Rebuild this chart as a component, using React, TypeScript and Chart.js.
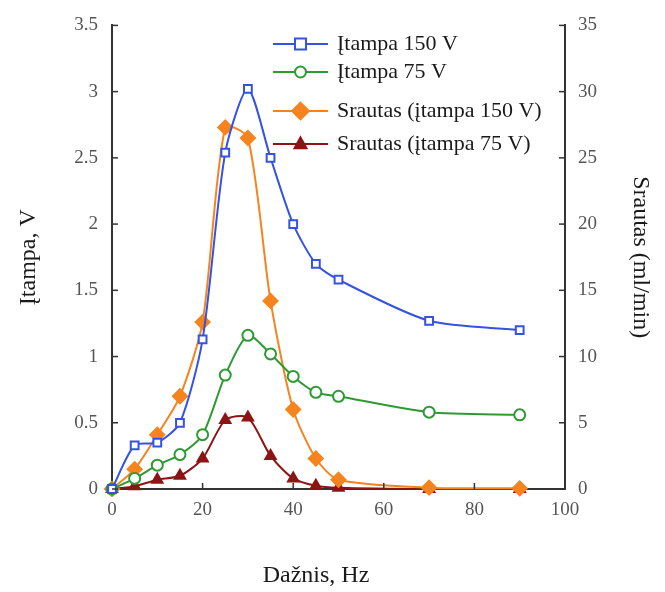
import React, { useEffect, useRef } from "react";
import { Chart, registerables } from "chart.js";

Chart.register(...registerables);

const frequencyHz = [0, 5, 10, 15, 20, 25, 30, 35, 40, 45, 50, 70, 90];
const voltage150 = [0, 0.33, 0.35, 0.5, 1.13, 2.54, 3.02, 2.5, 2.0, 1.7, 1.58, 1.27, 1.2];
const voltage75 = [0, 0.08, 0.18, 0.26, 0.41, 0.86, 1.16, 1.02, 0.85, 0.73, 0.7, 0.58, 0.56];
const flow150 = [0, 1.5, 4.1, 7.0, 12.6, 27.3, 26.5, 14.2, 6.0, 2.3, 0.7, 0.1, 0.05];
const flow75 = [0, 0.2, 0.7, 1.0, 2.3, 5.2, 5.4, 2.5, 0.8, 0.25, 0.1, 0, 0];

const seriesLabels = [
  "Įtampa 150 V",
  "Įtampa 75 V",
  "Srautas (įtampa 150 V)",
  "Srautas (įtampa 75 V)",
];
const xTitle = "Dažnis, Hz";
const yTitle = "Įtampa, V";
const y2Title = "Srautas (ml/min)";

const FONT = '"Liberation Serif", "Times New Roman", serif';
const COLORS = ["#3552e0", "#2f9a34", "#f5841f", "#8c1414"];

const toPoints = (ys: number[]) => frequencyHz.map((x, i) => ({ x, y: ys[i] }));

function drawMarker(ctx: CanvasRenderingContext2D, style: string, r: number, x: number, y: number) {
  ctx.beginPath();
  if (style === "rect") {
    ctx.rect(x - r, y - r, 2 * r, 2 * r);
  } else if (style === "circle") {
    ctx.arc(x, y, r, 0, Math.PI * 2);
  } else if (style === "rectRot") {
    ctx.moveTo(x, y - r * 1.2);
    ctx.lineTo(x + r * 1.2, y);
    ctx.lineTo(x, y + r * 1.2);
    ctx.lineTo(x - r * 1.2, y);
    ctx.closePath();
  } else if (style === "triangle") {
    ctx.moveTo(x, y - r * 1.1);
    ctx.lineTo(x + r, y + r * 0.7);
    ctx.lineTo(x - r, y + r * 0.7);
    ctx.closePath();
  }
  ctx.fill();
  ctx.stroke();
}

const overlayPlugin = {
  id: "overlay",
  afterDraw(chart: any) {
    const { ctx, chartArea, scales } = chart;
    const { left, right, bottom } = chartArea;
    ctx.save();
    ctx.strokeStyle = "#333";
    ctx.lineWidth = 1.5;
    // inward tick marks
    scales.x.ticks.forEach((t: any) => {
      const px = scales.x.getPixelForValue(t.value);
      if (t.value <= 0 || t.value >= 100) return;
      ctx.beginPath();
      ctx.moveTo(px, bottom);
      ctx.lineTo(px, bottom - 6);
      ctx.stroke();
    });
    scales.y.ticks.forEach((t: any) => {
      const py = scales.y.getPixelForValue(t.value);
      ctx.beginPath();
      ctx.moveTo(left, py);
      ctx.lineTo(left + 6, py);
      ctx.stroke();
    });
    scales.y2.ticks.forEach((t: any) => {
      const py = scales.y2.getPixelForValue(t.value);
      ctx.beginPath();
      ctx.moveTo(right, py);
      ctx.lineTo(right - 6, py);
      ctx.stroke();
    });

    // x axis title
    ctx.fillStyle = "#1a1a1a";
    ctx.font = `24px ${FONT}`;
    ctx.textAlign = "center";
    ctx.textBaseline = "middle";
    ctx.fillText(xTitle, 316, 576);

    // legend
    const rows = [44, 72, 111, 144];
    const x0 = 273;
    const x1 = 328;
    chart.data.datasets.forEach((ds: any, i: number) => {
      const y = rows[i];
      ctx.strokeStyle = ds.borderColor;
      ctx.lineWidth = 2;
      ctx.beginPath();
      ctx.moveTo(x0, y);
      ctx.lineTo(x1, y);
      ctx.stroke();
      ctx.lineWidth = ds.pointBorderWidth;
      ctx.strokeStyle = ds.pointBorderColor;
      ctx.fillStyle = ds.pointBackgroundColor;
      drawMarker(ctx, ds.pointStyle, ds.pointRadius, (x0 + x1) / 2, y);
      ctx.fillStyle = "#1a1a1a";
      ctx.font = `22px ${FONT}`;
      ctx.textBaseline = "middle";
      ctx.textAlign = "left";
      ctx.fillText(ds.label, 337, y);
    });
    ctx.restore();
  },
};

export default function App() {
  const canvasRef = useRef<HTMLCanvasElement | null>(null);

  useEffect(() => {
    if (!canvasRef.current) return;
    const makeDs = (
      label: string,
      data: number[],
      color: string,
      axis: string,
      style: string,
      radius: number,
      filled: boolean
    ) => ({
      label,
      data: toPoints(data),
      yAxisID: axis,
      borderColor: color,
      backgroundColor: color,
      borderWidth: 2,
      pointStyle: style,
      pointRadius: radius,
      pointBorderWidth: 2,
      pointBorderColor: color,
      pointBackgroundColor: filled ? color : "#ffffff",
      tension: 0.25,
      clip: false as any,
    });

    const fmt = (v: any) => String(v);

    const chart = new Chart(canvasRef.current, {
      type: "line",
      data: {
        datasets: [
          makeDs(seriesLabels[0], voltage150, COLORS[0], "y", "rect", 5.5, false),
          makeDs(seriesLabels[1], voltage75, COLORS[1], "y", "circle", 5.5, false),
          makeDs(seriesLabels[2], flow150, COLORS[2], "y2", "rectRot", 7, true),
          makeDs(seriesLabels[3], flow75, COLORS[3], "y2", "triangle", 6, true),
        ] as any,
      },
      options: {
        animation: false,
        responsive: false,
        maintainAspectRatio: false,
        layout: { padding: { top: 22, left: 0, right: 0, bottom: 0 } },
        plugins: { legend: { display: false }, tooltip: { enabled: false } },
        scales: {
          x: {
            type: "linear",
            min: 0,
            max: 100,
            ticks: { stepSize: 20, color: "#555", padding: 10, font: { family: FONT, size: 19 }, callback: fmt },
            grid: { display: false, drawTicks: false },
            border: { display: true, color: "#333", width: 2 },
            title: { display: false, text: xTitle },
            afterFit: (s: any) => {
              s.height = 103;
            },
          },
          y: {
            position: "left",
            min: 0,
            max: 3.5,
            ticks: { stepSize: 0.5, color: "#555", padding: 14, font: { family: FONT, size: 19 }, callback: fmt },
            grid: { display: false, drawTicks: false },
            border: { display: true, color: "#333", width: 2 },
            title: { display: true, text: yTitle, color: "#1a1a1a", font: { family: FONT, size: 24 }, padding: { top: 14, bottom: 0 } },
            afterFit: (s: any) => {
              s.width = 112;
            },
          },
          y2: {
            position: "right",
            min: 0,
            max: 35,
            ticks: { stepSize: 5, color: "#555", padding: 13, font: { family: FONT, size: 19 }, callback: fmt },
            grid: { display: false, drawTicks: false },
            border: { display: true, color: "#333", width: 2 },
            title: { display: true, text: y2Title, color: "#1a1a1a", font: { family: FONT, size: 24 }, padding: { top: 10, bottom: 0 } },
            afterFit: (s: any) => {
              s.width = 100;
            },
          },
        },
      } as any,
      plugins: [overlayPlugin],
    });
    return () => chart.destroy();
  }, []);

  return (
    <div style={{ position: "fixed", left: 0, top: 0, width: 665, height: 592, background: "#fff" }}>
      <canvas ref={canvasRef} width={665} height={592} style={{ width: 665, height: 592, display: "block" }} />
    </div>
  );
}
